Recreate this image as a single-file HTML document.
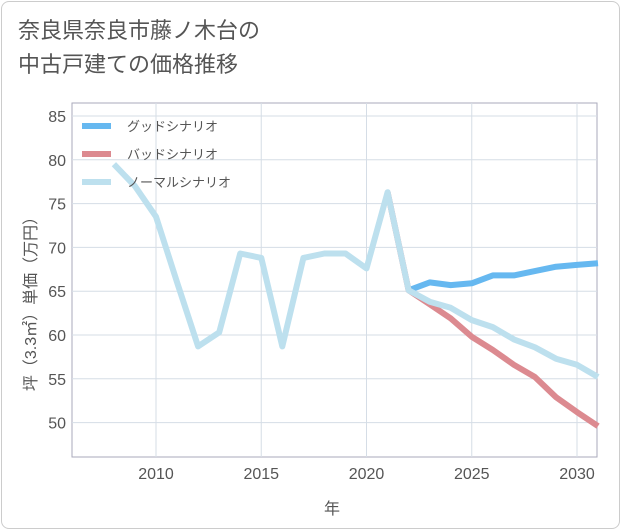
<!DOCTYPE html>
<html><head><meta charset="utf-8"><style>
body{margin:0;background:#fff;font-family:"Liberation Sans","Noto Sans CJK JP",sans-serif;}
#frame{position:absolute;left:1px;top:1px;width:617px;height:526px;border:1px solid #ccc;border-radius:8px;}
#title{position:absolute;left:18px;top:14px;font-size:22px;line-height:34px;color:#555;}
</style></head><body>
<div id="frame"></div>
<div id="title">奈良県奈良市藤ノ木台の<br>中古戸建ての価格推移</div>
<svg id="chart" width="621" height="530" style="position:absolute;left:0;top:0"></svg>
<script>
const years=[2008,2009,2010,2011,2012,2013,2014,2015,2016,2017,2018,2019,2020,2021,2022,2023,2024,2025,2026,2027,2028,2029,2030,2031];
const normalVals=[79.5,77,73.5,66,58.7,60.3,69.3,68.8,58.7,68.8,69.3,69.3,67.6,76.3,65.1,63.8,63.1,61.7,60.9,59.5,58.6,57.3,56.6,55.2];
const goodYears=[2022,2023,2024,2025,2026,2027,2028,2029,2030,2031];
const goodVals=[65.1,66.0,65.7,65.9,66.8,66.8,67.3,67.8,68.0,68.2];
const badYears=[2021,2022,2023,2024,2025,2026,2027,2028,2029,2030,2031];
const badVals=[76.3,65.1,63.5,61.9,59.8,58.3,56.6,55.2,52.9,51.2,49.6];
const xTicks=[2010,2015,2020,2025,2030];
const yTicks=[50,55,60,65,70,75,80,85];
const L=72,R=597,T=103,B=457;
const x=y=>156+(y-2010)*21.05;
const yS=v=>116+(85-v)*8.76;
const svg=document.getElementById('chart');
const NS='http://www.w3.org/2000/svg';
function mk(t,a){const e=document.createElementNS(NS,t);for(const k in a)e.setAttribute(k,a[k]);svg.appendChild(e);return e;}
let e;
e=mk('rect',{x:L,y:T,width:R-L,height:B-T,fill:'none',stroke:'#aab',"stroke-width":1});


yTicks.forEach(v=>{
 e=mk('line',{x1:L,x2:R,y1:yS(v),y2:yS(v),stroke:'#d5dde6'});
 
 
 e=mk('text',{x:L-6,y:yS(v)+6,'text-anchor':'end','font-size':16,fill:'#555'});e.textContent=v;
 
 
});
xTicks.forEach(v=>{
 e=mk('line',{x1:x(v),x2:x(v),y1:T,y2:B,stroke:'#d5dde6'});
 
 
 e=mk('text',{x:x(v),y:B+22,'text-anchor':'middle','font-size':16,fill:'#555'});e.textContent=v;
 
 
});
function line(xs,vs,c,name){
 const p=xs.map((yr,i)=>x(yr).toFixed(1)+','+yS(vs[i]).toFixed(1)).join(' ');
 const el=mk('polyline',{points:p,fill:'none',stroke:c,'stroke-width':6,'stroke-linejoin':'round'});
 
 
}
line(goodYears,goodVals,'#66b8f0','good-scenario-line');
line(badYears,badVals,'#dc8a90','bad-scenario-line');
line(years,normalVals,'#bde0ee','normal-scenario-line');
const leg=[['グッドシナリオ','#66b8f0'],['バッドシナリオ','#dc8a90'],['ノーマルシナリオ','#bde0ee']];
leg.forEach((l,i)=>{
 const yy=126+i*28;
 e=mk('line',{x1:82,x2:111,y1:yy,y2:yy,stroke:l[1],'stroke-width':6});
 
 
 e=mk('text',{x:127,y:yy+5,'font-size':13,fill:'#555'});e.textContent=l[0];
 
 
});
e=mk('text',{x:332,y:514,'text-anchor':'middle','font-size':16,fill:'#555'});e.textContent='年';


e=mk('text',{x:0,y:0,'text-anchor':'middle','font-size':16,fill:'#555',transform:'translate(36,300) rotate(-90)'});e.textContent='坪（3.3㎡）単価（万円）';


</script>
</body></html>
